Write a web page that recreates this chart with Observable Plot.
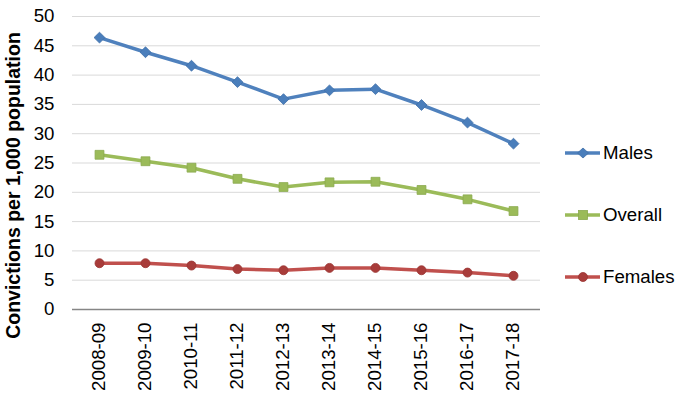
<!DOCTYPE html>
<html><head><meta charset="utf-8">
<script src="https://cdn.jsdelivr.net/npm/d3@7"></script>
<script src="https://cdn.jsdelivr.net/npm/@observablehq/plot@0.6"></script>
<style>
body{margin:0;background:#fff;}
#wrap{position:relative;width:687px;height:404px;font-family:"Liberation Sans",Arial,sans-serif;}
.leg{position:absolute;left:564px;height:24px;display:flex;align-items:center;font-size:18.67px;color:#000;white-space:nowrap;}
.leg svg{margin-right:2px;}
</style></head><body><div id="wrap"></div>
<script>
const years = ["2008-09","2009-10","2010-11","2011-12","2012-13","2013-14","2014-15","2015-16","2016-17","2017-18"];
const males   = [46.4, 43.9, 41.6, 38.8, 35.9, 37.4, 37.6, 34.9, 31.9, 28.3];
const overall = [26.4, 25.3, 24.2, 22.3, 20.9, 21.7, 21.8, 20.4, 18.8, 16.8];
const females = [7.9, 7.9, 7.5, 6.9, 6.7, 7.1, 7.1, 6.7, 6.3, 5.75];
const seriesNames = ["Males", "Overall", "Females"];
const yTicks = [0, 5, 10, 15, 20, 25, 30, 35, 40, 45, 50];
const yTitle = "Convictions per 1,000 population";

const styles = {
  Males:   {line: "#4f81bd", fill: "#4a7ebb", stroke: "#3f6fa8", symbol: "diamond2", r: 4.9},
  Overall: {line: "#9bbb59", fill: "#9bbb59", stroke: "#8aa94e", symbol: "square", r: 5.0},
  Females: {line: "#c0504d", fill: "#a83c3a", stroke: "#9a3532", symbol: "circle", r: 4.5}
};
const valuesBy = {Males: males, Overall: overall, Females: females};

const data = [];
for (const s of seriesNames) valuesBy[s].forEach((v, i) => data.push({year: years[i], value: v, series: s}));

const FS = 18.67;
const marks = [
  Plot.gridY(yTicks.filter(t => t > 0), {stroke: "#d9d9d9", strokeOpacity: 1, strokeWidth: 1}),
  Plot.ruleY([0], {stroke: "#868686", strokeWidth: 1.3}),
  Plot.axisY({ticks: yTicks, tickSize: 0, tickPadding: 18, fontSize: FS, label: null, tickFormat: d => String(d)}),
  Plot.axisX({tickSize: 0, tickRotate: -90, tickPadding: 13, fontSize: FS, label: null})
];
for (const s of seriesNames) {
  const st = styles[s];
  const sub = data.filter(d => d.series === s);
  marks.push(Plot.line(sub, {x: "year", y: "value", stroke: st.line, strokeWidth: 3.5}));
}
for (const s of seriesNames) {
  const st = styles[s];
  const sub = data.filter(d => d.series === s);
  marks.push(Plot.dot(sub, {x: "year", y: "value", symbol: st.symbol, r: st.r, fill: st.fill, stroke: st.stroke, strokeWidth: 0.8}));
}
marks.push(Plot.text([yTitle], {text: d => d, frameAnchor: "left", textAnchor: "middle", rotate: -90, dx: -59, dy: 22.5, fontWeight: "bold", fontSize: 19.5}));

const chart = Plot.plot({
  width: 687, height: 404,
  marginLeft: 72, marginRight: 147, marginTop: 16, marginBottom: 95,
  style: {fontFamily: "'Liberation Sans', Arial, sans-serif", fontSize: "18.67px", color: "#000", background: "#fff", overflow: "visible"},
  x: {type: "point", domain: years, padding: 0.5, label: null},
  y: {domain: [0, 50], label: null},
  marks
});
const wrap = document.getElementById("wrap");
wrap.appendChild(chart);

const legendY = {Males: 153, Overall: 215, Females: 277};
for (const s of seriesNames) {
  const st = styles[s];
  const div = document.createElement("div");
  div.className = "leg";
  div.style.top = (legendY[s] - 12) + "px";
  let sym;
  if (st.symbol === "diamond2") sym = `<polygon points="19,7 24.5,12 19,17 13.5,12" fill="${st.fill}" stroke="${st.stroke}" stroke-width="0.8"/>`;
  else if (st.symbol === "square") sym = `<rect x="14.5" y="7.5" width="9" height="9" fill="${st.fill}" stroke="${st.stroke}" stroke-width="0.8"/>`;
  else sym = `<circle cx="19" cy="12" r="4.5" fill="${st.fill}" stroke="${st.stroke}" stroke-width="0.8"/>`;
  div.innerHTML = `<svg width="37" height="24"><line x1="1" x2="36" y1="12" y2="12" stroke="${st.line}" stroke-width="3.5"/>${sym}</svg><span>${s}</span>`;
  wrap.appendChild(div);
}
</script></body></html>
